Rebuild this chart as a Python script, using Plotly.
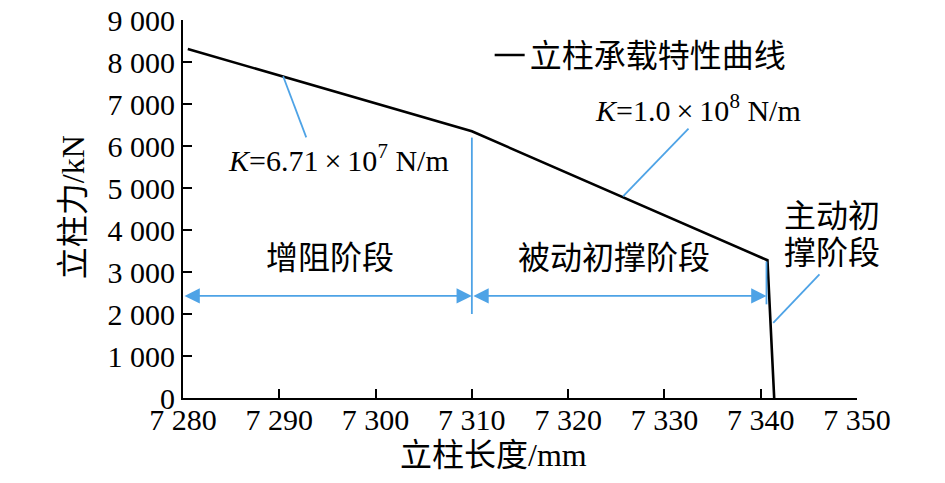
import plotly.graph_objects as go

# curve data (length mm, force kN)
length_mm = [7280.5, 7310.0, 7340.7, 7341.0, 7341.4]
force_kN = [8310, 6350, 3280, 2000, 0]

x_ticks = [7280, 7290, 7300, 7310, 7320, 7330, 7340, 7350]
x_ticktext = ["7 280", "7 290", "7 300", "7 310", "7 320", "7 330", "7 340", "7 350"]
y_ticks = [0, 1000, 2000, 3000, 4000, 5000, 6000, 7000, 8000, 9000]
y_ticktext = ["0", "1 000", "2 000", "3 000", "4 000", "5 000", "6 000", "7 000", "8 000", "9 000"]

# stage boundaries (mm) and annotation anchors
stage_bounds = [7280, 7310, 7340.6]
arrow_y = 2430
divider1_y = [2000, 6200]
divider2_y = [2230, 3250]

BLUE = "#4ea3e6"
FONT = "Liberation Serif, Times New Roman, Noto Sans CJK SC, serif"
FS = 30
FS_CN = 32

fig = go.Figure()
fig.add_trace(go.Scatter(x=length_mm, y=force_kN, mode="lines",
                         line=dict(color="black", width=2.6),
                         name="立柱承载特性曲线"))

# divider lines
fig.add_trace(go.Scatter(x=[stage_bounds[1], stage_bounds[1]], y=divider1_y, mode="lines",
                         line=dict(color=BLUE, width=1.8), showlegend=False, hoverinfo="skip"))
fig.add_trace(go.Scatter(x=[stage_bounds[2], stage_bounds[2]], y=divider2_y, mode="lines",
                         line=dict(color=BLUE, width=1.8), showlegend=False, hoverinfo="skip"))

# leader lines
leaders = [
    ([7290.4, 7292.8], [7660, 6207]),
    ([7325.7, 7332.5], [4802, 6414]),
    ([7341.3, 7346.1], [1786, 2945]),
]
for lx, ly in leaders:
    fig.add_trace(go.Scatter(x=lx, y=ly, mode="lines", line=dict(color=BLUE, width=1.8),
                             showlegend=False, hoverinfo="skip"))

# double-headed arrows
for a, b in [(stage_bounds[0], stage_bounds[1]), (stage_bounds[1], stage_bounds[2])]:
    fig.add_annotation(x=b, y=arrow_y, ax=a, ay=arrow_y, xref="x", yref="y", axref="x", ayref="y",
                       showarrow=True, arrowhead=2, startarrowhead=2, arrowside="end+start",
                       arrowsize=1.7, startarrowsize=1.7, arrowwidth=1.8, arrowcolor=BLUE, text="")

texts = [
    (7296.1, 5725, "<i>K</i>=6.71\u2009×\u200910<sup>7</sup> N/m", FS),
    (7333.5, 6900, "<i>K</i>=1.0\u2009×\u200910<sup>8</sup> N/m", FS),
    (7295.3, 3326, "增阻阶段", FS_CN),
    (7324.8, 3326, "被动初撑阶段", FS_CN),
    (7347.4, 4330, "主动初", FS_CN),
    (7347.4, 3450, "撑阶段", FS_CN),
]
for tx, ty, t, fs in texts:
    fig.add_annotation(x=tx, y=ty, xref="x", yref="y", text=t, showarrow=False,
                       font=dict(family=FONT, size=fs, color="black"))

# axis titles
fig.add_annotation(x=0.461, y=-0.152, xref="paper", yref="paper", text="立柱长度/mm",
                   showarrow=False, xanchor="center", yanchor="middle",
                   font=dict(family=FONT, size=FS_CN, color="black"))
fig.add_annotation(x=-0.163, y=0.505, xref="paper", yref="paper", text="立柱力/kN",
                   showarrow=False, xanchor="center", yanchor="middle", textangle=-90,
                   font=dict(family=FONT, size=FS_CN, color="black"))

axis_common = dict(showline=True, linecolor="black", linewidth=2, ticks="inside",
                   ticklen=9, tickwidth=2, tickcolor="black", showgrid=False, zeroline=False,
                   automargin=False,
                   tickfont=dict(family=FONT, size=FS, color="black"))

fig.update_xaxes(range=[7280, 7350], tickvals=x_ticks, ticktext=x_ticktext,
                 ticklabelstandoff=-6, **axis_common)
fig.update_yaxes(range=[0, 9000], tickvals=y_ticks, ticktext=y_ticktext, **axis_common)

fig.update_layout(
    width=945, height=483,
    margin=dict(l=183, r=88, t=20, b=85, autoexpand=False),
    plot_bgcolor="white", paper_bgcolor="white",
    font=dict(family=FONT, size=FS, color="black"),
    legend=dict(x=0.455, y=0.907, xanchor="left", yanchor="middle",
                bgcolor="rgba(0,0,0,0)", font=dict(family=FONT, size=FS_CN)),
    showlegend=True,
)

fig.write_html("out.html", config={"displayModeBar": False},
               post_script="document.body.style.margin='0px';")
